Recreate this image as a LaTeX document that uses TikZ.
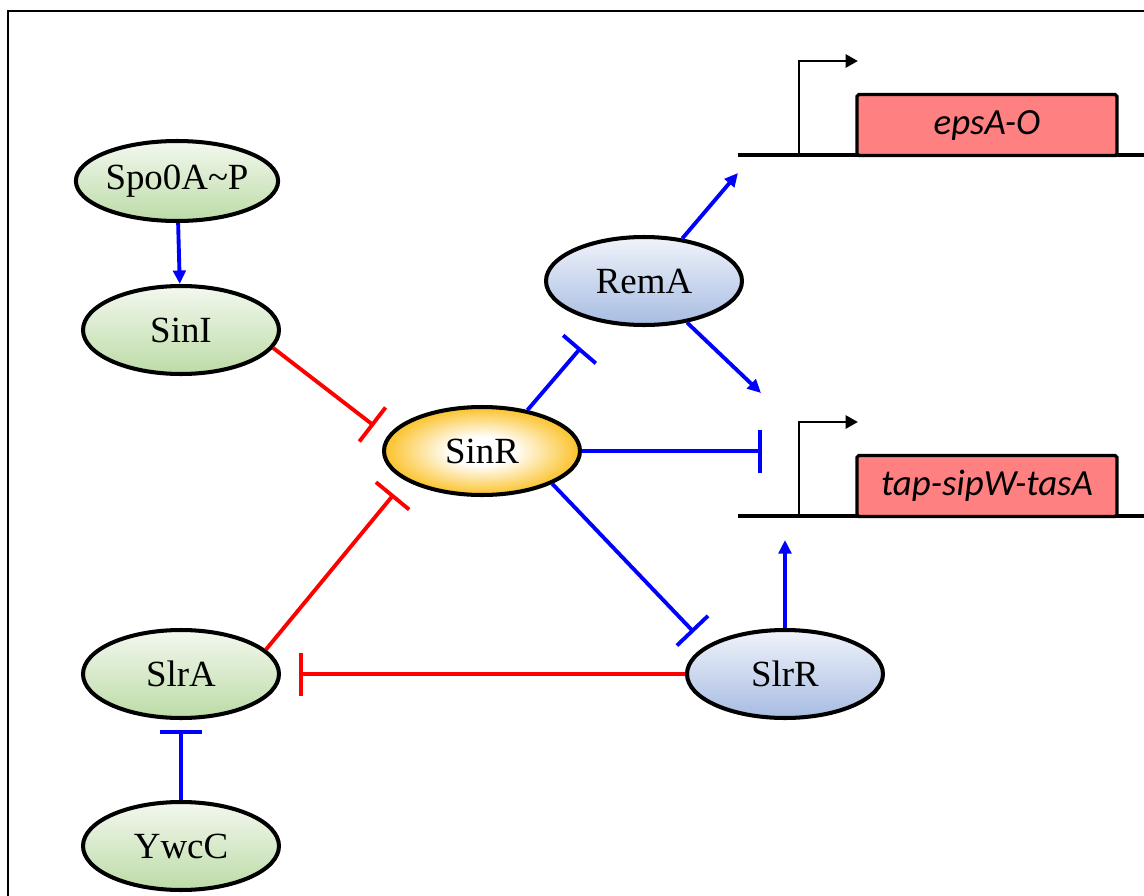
\documentclass[tikz,border=0pt]{standalone}
\usepackage{fontspec}
\setmainfont{Liberation Serif}
\newfontfamily\genefont{Carlito}
\usepackage{tikz}
\usetikzlibrary{arrows.meta,shapes.geometric}
\definecolor{grnGreenTop}{HTML}{F3F8EF}
\definecolor{grnGreenBot}{HTML}{BCDBA6}
\definecolor{grnBlueTop}{HTML}{F0F3FA}
\definecolor{grnBlueBot}{HTML}{A7BCE2}
\definecolor{grnGold}{HTML}{FBC535}
\definecolor{grnRed}{HTML}{FF0000}
\definecolor{grnBlue}{HTML}{0000FF}
\definecolor{grnGene}{HTML}{FF8080}
% white core fading out to gold at the rim
\pgfdeclareradialshading{grnglow}{\pgfpointorigin}{color(0bp)=(white); color(8bp)=(white); color(24bp)=(grnGold); color(50bp)=(grnGold)}
\tikzset{
  grn diagram/.style={x=0.02cm, y=-0.02cm, line join=miter},
  grn protein/.style={ellipse, draw=black, line width=2.3pt, inner sep=0pt,
    minimum width=3.92cm, minimum height=1.76cm,
    font=\fontsize{21}{24}\selectfont},
  grn green/.style={grn protein, top color=grnGreenTop, bottom color=grnGreenBot},
  grn blue/.style={grn protein, top color=grnBlueTop, bottom color=grnBlueBot},
  grn hub/.style={grn protein, shading=grnglow},
  grn act/.style={-{Triangle[length=0.27cm,width=0.25cm]}, draw=grnBlue, line width=2.2pt},
  grn inh/.style={-{Bar[width=0.86cm]}, line width=2.2pt},
  grn gene/.style={draw=black, fill=grnGene, line width=1.8pt, rounded corners=1pt,
    minimum width=5.2cm, minimum height=1.22cm, inner sep=0pt,
    font=\genefont\itshape\fontsize{21}{24}\selectfont},
  grn dna/.style={draw=black, line width=2.4pt},
  grn promoter/.style={-{Triangle[length=0.25cm,width=0.26cm]}, draw=black, line width=1.7pt}
}
\begin{document}
\begin{tikzpicture}[grn diagram]
\useasboundingbox (0,0) rectangle (1144,896);
\clip (0,0) rectangle (1144,896);
\draw[line width=1.5pt] (8,11) rectangle (1160,910);

% proteins
\node[grn green, minimum height=1.6cm] (spo) at (177,181) {Spo0A\textasciitilde P};
\node[grn green] (sinI) at (181,330) {SinI};
\node[grn hub] (sinR) at (482,451) {SinR};
\node[grn blue] (remA) at (644,281) {RemA};
\node[grn blue] (slrR) at (785,674) {SlrR};
\node[grn green] (slrA) at (181,674) {SlrA};
\node[grn green] (ywcC) at (181,846) {YwcC};

% operons
\draw[grn dna] (738,155) -- (1144,155);
\node[grn gene] (epsA) at (987,125) {epsA-O};
\draw[grn promoter] (799,155) |- (858,61);
\draw[grn dna] (738,516) -- (1144,516);
\node[grn gene] (tapA) at (987,486) {tap-sipW-tasA};
\draw[grn promoter] (799,516) |- (858,422);
\coordinate (epsIn) at (738,173);
\coordinate (tapIn) at (761,393);
\coordinate (tapBar) at (762,451);
\coordinate (tapUp) at (785,540);

% regulation
\draw[grn act] (spo) -- (sinI);
\draw[grn inh, draw=grnRed, shorten >=0.34cm] (sinI.-11) -- (sinR.171);
\draw[grn inh, draw=grnRed, shorten >=0.36cm] (slrA.16) -- (sinR.201);
\draw[grn inh, draw=grnBlue, shorten >=0.66cm] (sinR.42) -- (remA.225);
\draw[grn act] (remA.48) -- (epsIn);
\draw[grn act] (remA.-44) -- (tapIn);
\draw[grn inh, draw=grnBlue] (sinR.east) -- (tapBar);
\draw[grn inh, draw=grnBlue, shorten >=0.37cm] (sinR.-25) -- (slrR.160);
\draw[grn act] (slrR.north) -- (tapUp);
\draw[grn inh, draw=grnRed, shorten >=0.36cm] (slrR.west) -- (slrA.east);
\draw[grn inh, draw=grnBlue, shorten >=0.2cm] (ywcC.north) -- (slrA.south);
\end{tikzpicture}
\end{document}
